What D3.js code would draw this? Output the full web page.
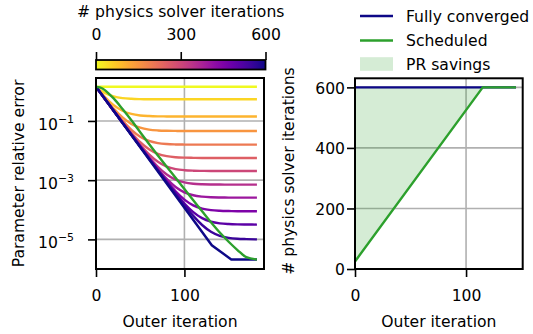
<!DOCTYPE html>
<html>
<head>
<meta charset="utf-8">
<script src="https://cdn.jsdelivr.net/npm/d3@7"></script>
<style>
  body { margin: 0; background: #fff; }
  svg { display: block; font-family: "DejaVu Sans", sans-serif; }
</style>
</head>
<body>
<svg id="chart" width="533" height="334"></svg>
<script>
// Outer iterations at which the parameter error is recorded
const outerIters = [0, 5, 10, 15, 20, 30, 40, 50, 60, 70, 80, 90, 100, 110, 120, 130, 140, 150, 160, 170, 182];

// Parameter relative error for a fixed number of physics solver iterations per outer step
const err0   = [1.42, 1.42, 1.42, 1.42, 1.42, 1.42, 1.42, 1.42, 1.42, 1.42, 1.42, 1.42, 1.42, 1.42, 1.42, 1.42, 1.42, 1.42, 1.42, 1.42, 1.42];
const err50  = [1.42, 1.09, 0.885, 0.756, 0.675, 0.591, 0.559, 0.546, 0.540, 0.538, 0.537, 0.537, 0.537, 0.537, 0.537, 0.537, 0.537, 0.537, 0.537, 0.537, 0.537];
const err100 = [1.42, 0.946, 0.647, 0.459, 0.341, 0.220, 0.172, 0.153, 0.146, 0.143, 0.142, 0.141, 0.141, 0.141, 0.141, 0.141, 0.141, 0.141, 0.141, 0.141, 0.141];
const err150 = [1.42, 0.910, 0.589, 0.387, 0.260, 0.131, 0.0793, 0.0590, 0.0510, 0.0478, 0.0465, 0.0460, 0.0457, 0.0457, 0.0457, 0.0457, 0.0457, 0.0457, 0.0457, 0.0457, 0.0457];
const err200 = [1.42, 0.899, 0.570, 0.365, 0.235, 0.1026, 0.0501, 0.0294, 0.0212, 0.0179, 0.0166, 0.0161, 0.0159, 0.0158, 0.0158, 0.0158, 0.0158, 0.0158, 0.0158, 0.0158, 0.0158];
const err250 = [1.42, 0.893, 0.563, 0.357, 0.226, 0.0927, 0.0400, 0.0192, 0.0110, 7.75e-3, 6.46e-3, 5.95e-3, 5.75e-3, 5.67e-3, 5.62e-3, 5.62e-3, 5.62e-3, 5.62e-3, 5.62e-3, 5.62e-3, 5.62e-3];
const err300 = [1.42, 0.889, 0.559, 0.353, 0.222, 0.0891, 0.0364, 0.0157, 7.43e-3, 4.17e-3, 2.88e-3, 2.37e-3, 2.17e-3, 2.09e-3, 2.06e-3, 2.04e-3, 2.04e-3, 2.04e-3, 2.04e-3, 2.04e-3, 2.04e-3];
const err350 = [1.42, 0.888, 0.558, 0.352, 0.221, 0.0878, 0.0351, 0.0143, 6.10e-3, 2.84e-3, 1.55e-3, 1.04e-3, 8.40e-4, 7.60e-4, 7.29e-4, 7.16e-4, 7.11e-4, 7.08e-4, 7.08e-4, 7.08e-4, 7.08e-4];
const err400 = [1.42, 0.887, 0.557, 0.351, 0.220, 0.0874, 0.0347, 0.0139, 5.65e-3, 2.39e-3, 1.10e-3, 5.90e-4, 3.89e-4, 3.09e-4, 2.78e-4, 2.65e-4, 2.60e-4, 2.58e-4, 2.57e-4, 2.57e-4, 2.57e-4];
const err450 = [1.42, 0.887, 0.557, 0.351, 0.220, 0.0872, 0.0345, 0.0137, 5.48e-3, 2.22e-3, 9.31e-4, 4.22e-4, 2.21e-4, 1.41e-4, 1.10e-4, 9.72e-5, 9.23e-5, 9.04e-5, 8.96e-5, 8.91e-5, 8.91e-5];
const err500 = [1.42, 0.887, 0.557, 0.351, 0.220, 0.0871, 0.0344, 0.0137, 5.42e-3, 2.16e-3, 8.74e-4, 3.65e-4, 1.63e-4, 8.36e-5, 5.22e-5, 3.97e-5, 3.48e-5, 3.29e-5, 3.21e-5, 3.18e-5, 3.16e-5];
const err550 = [1.42, 0.887, 0.557, 0.351, 0.220, 0.0871, 0.0344, 0.0136, 5.40e-3, 2.14e-3, 8.52e-4, 3.43e-4, 1.42e-4, 6.20e-5, 3.06e-5, 1.81e-5, 1.32e-5, 1.13e-5, 1.05e-5, 1.02e-5, 1.00e-5];

const solverIterLevels = [0, 50, 100, 150, 200, 250, 300, 350, 400, 450, 500, 550];
const fixedRuns = [err0, err50, err100, err150, err200, err250, err300, err350, err400, err450, err500, err550];

// Fully converged run (600 solver iterations every outer step)
const convergedIters = [0, 131, 153, 182];
const convergedError = [1.42, 6.3e-6, 2.1e-6, 2.1e-6];
const convergedLevel = 600;

// Scheduled run
const scheduledError = [1.41, 1.33, 1.10, 0.81, 0.575, 0.251, 0.105, 0.0417, 0.0166, 6.76e-3, 2.82e-3, 1.20e-3, 5.01e-4, 2.09e-4, 8.91e-5, 3.80e-5, 1.70e-5, 8.32e-6, 4.37e-6, 2.5e-6, 2.1e-6];

// Solver iterations per outer iteration (right panel)
const solverOuter = [0, 115, 145];
const convergedSolver = [600, 600, 600];
const scheduledSolver = [25, 600, 600];

// Tick values
const errTicks = [1e-1, 1e-3, 1e-5];
const errTickExp = ["\u22121", "\u22123", "\u22125"];
const outerTicksLeft = [0, 100];
const outerTicksRight = [0, 100];
const solverTicks = [0, 200, 400, 600];
const colorbarTicks = [0, 300, 600];

const FS = 15.6;
const GREEN = "#2ca02c";
const GRID = "#b0b0b0";
const svg = d3.select("#chart");
const levelColor = v => d3.interpolatePlasma(1 - v / 600);

// ---------- scales ----------
const xL = d3.scaleLinear().domain([0, 190]).range([96, 264]);
const yL = d3.scaleLog().domain([1e-6, Math.pow(10, 0.45)]).range([269, 78]);
const xR = d3.scaleLinear().domain([0, 151]).range([355, 522.7]);
const yR = d3.scaleLinear().domain([0, 630]).range([269, 78.3]);
const xC = d3.scaleLinear().domain([0, 600]).range([96, 265.5]);

function styleAxis(g) {
  g.select(".domain").remove();
  g.attr("font-family", null).attr("font-size", null);
  g.selectAll(".tick line").attr("stroke", "#000").attr("stroke-width", 1.6);
  g.selectAll(".tick text").attr("fill", "#000").style("font-size", FS + "px");
}

// ---------- left panel: parameter error ----------
const left = svg.append("g");
left.append("g").selectAll("line").data(outerTicksLeft).join("line")
  .attr("x1", d => xL(d)).attr("x2", d => xL(d))
  .attr("y1", yL.range()[0]).attr("y2", yL.range()[1])
  .attr("stroke", GRID).attr("stroke-width", 1.6);
left.append("g").selectAll("line").data(errTicks).join("line")
  .attr("x1", xL.range()[0]).attr("x2", xL.range()[1])
  .attr("y1", d => yL(d)).attr("y2", d => yL(d))
  .attr("stroke", GRID).attr("stroke-width", 1.6);

const errLine = d3.line().x(d => xL(d[0])).y(d => yL(d[1])).curve(d3.curveMonotoneX);

left.append("g").selectAll("path").data(fixedRuns).join("path")
  .attr("d", run => errLine(run.map((v, i) => [outerIters[i], v])))
  .attr("fill", "none")
  .attr("stroke", (run, i) => levelColor(solverIterLevels[i]))
  .attr("stroke-width", 2.4);

left.append("path")
  .attr("d", d3.line().x(d => xL(d[0])).y(d => yL(d[1]))(convergedIters.map((v, i) => [v, convergedError[i]])))
  .attr("fill", "none").attr("stroke", levelColor(convergedLevel)).attr("stroke-width", 2.4);

left.append("path")
  .attr("d", errLine(scheduledError.map((v, i) => [outerIters[i], v])))
  .attr("fill", "none").attr("stroke", GREEN).attr("stroke-width", 2.4);

left.append("rect")
  .attr("x", xL.range()[0]).attr("y", yL.range()[1])
  .attr("width", xL.range()[1] - xL.range()[0]).attr("height", yL.range()[0] - yL.range()[1])
  .attr("fill", "none").attr("stroke", "#000").attr("stroke-width", 2);

left.append("g").attr("transform", "translate(0,269)")
  .call(d3.axisBottom(xL).tickValues(outerTicksLeft).tickSize(8).tickPadding(13).tickFormat(d3.format("d")))
  .call(styleAxis);

const yAxisL = left.append("g").attr("transform", "translate(96,0)")
  .call(d3.axisLeft(yL).tickValues(errTicks).tickSize(8).tickPadding(14).tickFormat(() => ""))
  .call(styleAxis);
yAxisL.selectAll(".tick text").each(function (d, i) {
  const t = d3.select(this).attr("dy", "0.52em");
  t.append("tspan").text("10");
  t.append("tspan").attr("dy", "-0.62em").style("font-size", (FS * 0.7) + "px").text(errTickExp[i]);
});

left.append("text")
  .attr("x", 180).attr("y", 327).attr("text-anchor", "middle")
  .style("font-size", FS + "px").text("Outer iteration");
left.append("text")
  .attr("transform", "translate(24,173.5) rotate(-90)").attr("text-anchor", "middle")
  .style("font-size", FS + "px").text("Parameter relative error");

// ---------- colour bar ----------
const grad = svg.append("defs").append("linearGradient").attr("id", "plasmaRev")
  .attr("x1", "0%").attr("x2", "100%").attr("y1", "0%").attr("y2", "0%");
d3.range(0, 1.0001, 0.05).forEach(t => {
  grad.append("stop").attr("offset", (t * 100) + "%").attr("stop-color", d3.interpolatePlasma(1 - t));
});
svg.append("rect")
  .attr("x", xC.range()[0]).attr("y", 60).attr("width", xC.range()[1] - xC.range()[0]).attr("height", 9.5)
  .attr("fill", "url(#plasmaRev)").attr("stroke", "#000").attr("stroke-width", 1.8);
svg.append("g").attr("transform", "translate(0,60)")
  .call(d3.axisTop(xC).tickValues(colorbarTicks).tickSize(8).tickPadding(12).tickFormat(d3.format("d")))
  .call(styleAxis);
svg.append("text")
  .attr("x", (xC.range()[0] + xC.range()[1]) / 2).attr("y", 17).attr("text-anchor", "middle")
  .style("font-size", FS + "px").text("# physics solver iterations");

// ---------- right panel: solver iterations ----------
const right = svg.append("g");
right.append("g").selectAll("line").data(outerTicksRight).join("line")
  .attr("x1", d => xR(d)).attr("x2", d => xR(d))
  .attr("y1", yR.range()[0]).attr("y2", yR.range()[1])
  .attr("stroke", GRID).attr("stroke-width", 1.6);
right.append("g").selectAll("line").data(solverTicks).join("line")
  .attr("x1", xR.range()[0]).attr("x2", xR.range()[1])
  .attr("y1", d => yR(d)).attr("y2", d => yR(d))
  .attr("stroke", GRID).attr("stroke-width", 1.6);

const solverRows = solverOuter.map((x, i) => ({ x, full: convergedSolver[i], sched: scheduledSolver[i] }));
right.append("path")
  .attr("d", d3.area().x(d => xR(d.x)).y0(d => yR(d.sched)).y1(d => yR(d.full))(solverRows))
  .attr("fill", GREEN).attr("fill-opacity", 0.2);
right.append("path")
  .attr("d", d3.line().x(d => xR(d.x)).y(d => yR(d.full))(solverRows))
  .attr("fill", "none").attr("stroke", levelColor(convergedLevel)).attr("stroke-width", 2.4);
right.append("path")
  .attr("d", d3.line().x(d => xR(d.x)).y(d => yR(d.sched))(solverRows))
  .attr("fill", "none").attr("stroke", GREEN).attr("stroke-width", 2.4);

right.append("rect")
  .attr("x", xR.range()[0]).attr("y", yR.range()[1])
  .attr("width", xR.range()[1] - xR.range()[0]).attr("height", yR.range()[0] - yR.range()[1])
  .attr("fill", "none").attr("stroke", "#000").attr("stroke-width", 2);

right.append("g").attr("transform", "translate(0,269)")
  .call(d3.axisBottom(xR).tickValues(outerTicksRight).tickSize(8).tickPadding(13).tickFormat(d3.format("d")))
  .call(styleAxis);
right.append("g").attr("transform", "translate(355,0)")
  .call(d3.axisLeft(yR).tickValues(solverTicks).tickSize(8).tickPadding(2).tickFormat(d3.format("d")))
  .call(styleAxis)
  .call(g => g.selectAll(".tick text").attr("dy", "0.36em"));

right.append("text")
  .attr("x", (xR.range()[0] + xR.range()[1]) / 2).attr("y", 327).attr("text-anchor", "middle")
  .style("font-size", FS + "px").text("Outer iteration");
right.append("text")
  .attr("transform", "translate(294,171) rotate(-90)").attr("text-anchor", "middle")
  .style("font-size", FS + "px").text("# physics solver iterations");

// ---------- legend ----------
const legend = svg.append("g");
const legendItems = [
  { label: "Fully converged", kind: "line", color: levelColor(convergedLevel), y: 16, base: 22 },
  { label: "Scheduled", kind: "line", color: GREEN, y: 40.5, base: 45.8 },
  { label: "PR savings", kind: "patch", color: GREEN, y: 64, base: 69.6 }
];
legendItems.forEach(it => {
  if (it.kind === "line") {
    legend.append("line").attr("x1", 360).attr("x2", 393).attr("y1", it.y).attr("y2", it.y)
      .attr("stroke", it.color).attr("stroke-width", 2.4);
  } else {
    legend.append("rect").attr("x", 360).attr("y", it.y - 6.8).attr("width", 33).attr("height", 13.6)
      .attr("fill", it.color).attr("fill-opacity", 0.2);
  }
  legend.append("text").attr("x", 406).attr("y", it.base).style("font-size", FS + "px").text(it.label);
});
</script>
</body>
</html>
